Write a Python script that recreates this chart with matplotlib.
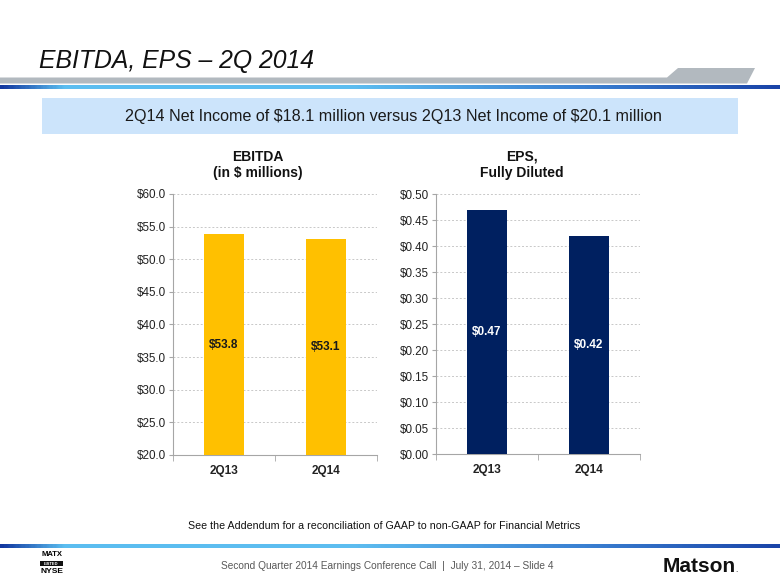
import matplotlib
matplotlib.use("Agg")
import matplotlib.pyplot as plt
import numpy as np
from matplotlib.patches import Polygon, Rectangle
from matplotlib.colors import LinearSegmentedColormap

# data
quarters = ["2Q13", "2Q14"]
ebitda = [53.8, 53.1]
eps = [0.47, 0.42]
ebitda_ticks = [20, 25, 30, 35, 40, 45, 50, 55, 60]
eps_ticks = [0.00, 0.05, 0.10, 0.15, 0.20, 0.25, 0.30, 0.35, 0.40, 0.45, 0.50]

plt.rcParams['font.family'] = ['Liberation Sans', 'DejaVu Sans']

W, H = 780, 585
fig = plt.figure(figsize=(W / 100, H / 100), dpi=100)

# background / decoration layer in pixel coords
bg = fig.add_axes([0, 0, 1, 1], zorder=0)
bg.set_xlim(0, W)
bg.set_ylim(H, 0)
bg.axis('off')

blue = LinearSegmentedColormap.from_list(
    'slide', [(0, '#1238A0'), (0.08, '#5BBEF0'), (0.45, '#5DBDF0'),
              (0.75, '#3A80D2'), (1.0, '#1A44A8')])
grad = np.linspace(0, 1, 400).reshape(1, -1)
bg.imshow(grad, cmap=blue, extent=[0, W, 89, 85], aspect='auto')
bg.imshow(grad, cmap=blue, extent=[0, W, 548, 544], aspect='auto')

bg.add_patch(Polygon([(0, 77.5), (667, 77.5), (678, 68), (755, 68),
                      (747, 83.5), (0, 83.5)], closed=True,
                     facecolor='#B2B9BF', edgecolor='none'))
bg.add_patch(Rectangle((42, 98), 696, 36, facecolor='#CCE4FB', edgecolor='none'))

bg.text(39, 68, "EBITDA, EPS \u2013 2Q 2014", fontsize=17.8, style='italic',
        color='#111111', va='baseline', ha='left')
bg.text(393, 116, "2Q14 Net Income of $18.1 million versus 2Q13 Net Income of $20.1 million",
        fontsize=11.6, color='#1a1a1a', ha='center', va='center', parse_math=False)
bg.text(384, 526, "See the Addendum for a reconciliation of GAAP to non-GAAP for Financial Metrics",
        fontsize=7.7, color='#111111', ha='center', va='center')
bg.text(387, 566, "Second Quarter 2014 Earnings Conference Call  |  July 31, 2014 \u2013 Slide 4",
        fontsize=7.3, color='#595959', ha='center', va='center')

# MATX / NYSE mark
bg.text(51.5, 554.5, "MATX", fontsize=5.5, weight='bold', ha='center', va='center')
bg.add_patch(Rectangle((40, 561), 23, 5, facecolor='#111111', edgecolor='none'))
bg.text(51.5, 563.6, "LISTED", fontsize=3, color='white', weight='bold', ha='center', va='center')
bg.text(51.5, 571.5, "NYSE", fontsize=6, weight='bold', ha='center', va='center')

# Matson logotype
bg.text(663, 572, "Matson", fontsize=15, weight='bold', color='#111111',
        ha='left', va='baseline')
bg.text(735, 572, ".", fontsize=6, color='#111111', ha='left', va='baseline')

# chart titles
fig.text(258 / W, 1 - 165 / H, "EBITDA\n(in $ millions)", fontsize=10, weight='bold',
         ha='center', va='center', linespacing=1.2, color='#111111')
fig.text(522 / W, 1 - 165 / H, "EPS,\nFully Diluted", fontsize=10, weight='bold',
         ha='center', va='center', linespacing=1.2, color='#111111')


def bar_panel(rect, values, ticks, fmt, color, label_color, label_fmt):
    ax = fig.add_axes(rect, zorder=1)
    ax.patch.set_alpha(0)
    x = np.arange(len(quarters))
    lo = ticks[0]
    ax.bar(x, [v - lo for v in values], bottom=lo, width=0.4, color=color,
           zorder=3)
    ax.set_xlim(-0.5, len(quarters) - 0.5)
    ax.set_ylim(ticks[0], ticks[-1])
    ax.set_yticks(ticks)
    ax.set_yticklabels([fmt.format(t) for t in ticks], fontsize=8.4, color='#222222')
    ax.set_xticks(x)
    ax.set_xticklabels(quarters, fontsize=8.5, weight='bold', color='#222222')
    ax.set_xticks([-0.5, 0.5, 1.5], minor=True)
    ax.tick_params(axis='x', which='major', length=0, pad=7)
    ax.tick_params(axis='x', which='minor', length=4, color='#A6A6A6', direction='out')
    ax.tick_params(axis='y', length=3, color='#A6A6A6', direction='out', pad=2)
    ax.yaxis.grid(True, linestyle=(0, (2, 2)), color='#C8C8C8', linewidth=0.7, zorder=0)
    ax.set_axisbelow(True)
    for s in ('top', 'right'):
        ax.spines[s].set_visible(False)
    for s in ('left', 'bottom'):
        ax.spines[s].set_color('#A6A6A6')
        ax.spines[s].set_linewidth(0.8)
    for xi, v in zip(x, values):
        ax.text(xi, (lo + v) / 2, label_fmt.format(v), ha='center', va='center',
                fontsize=8.5, weight='bold', color=label_color, zorder=4)
    return ax


bar_panel([173 / W, 1 - 455 / H, 204 / W, 261 / H], ebitda, ebitda_ticks,
          "${:.1f}", '#FFC000', '#1a1a1a', "${:.1f}")
bar_panel([436 / W, 1 - 454 / H, 204 / W, 260 / H], eps, eps_ticks,
          "${:.2f}", '#002060', 'white', "${:.2f}")

fig.savefig("out.png", dpi=100)
